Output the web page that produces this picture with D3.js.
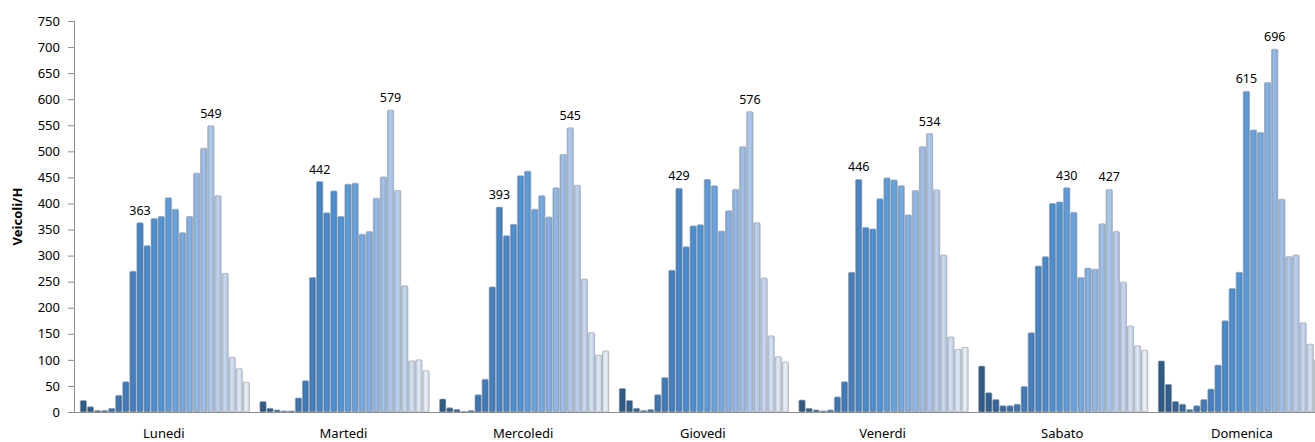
<!DOCTYPE html>
<html><head><meta charset="utf-8">
<script src="https://cdn.jsdelivr.net/npm/d3@7"></script>
<style>
html,body{margin:0;padding:0;background:#fff;overflow:hidden;}
text{font-family:"Noto Sans",sans-serif;fill:#000;}
</style></head>
<body><svg id="c" width="1315" height="442"></svg>
<script>
const days = ["Lunedi","Martedi","Mercoledi","Giovedi","Venerdi","Sabato","Domenica"];
const hours = d3.range(24);
const lunedi    = [22,10,3,3,7,32,58,270,363,319,371,375,411,389,344,375,458,506,549,415,266,105,83,57];
const martedi   = [20,7,4,2,2,27,60,258,442,382,424,375,437,439,341,346,410,451,579,425,242,98,100,79];
const mercoledi = [25,8,5,1,3,33,63,240,393,338,360,453,462,389,415,374,430,494,545,435,255,152,109,117];
const giovedi   = [45,22,7,3,5,33,66,272,429,317,357,359,446,434,347,386,427,509,576,363,257,146,106,96];
const venerdi   = [23,7,4,2,4,29,58,268,446,354,351,409,449,445,434,378,425,509,534,426,301,144,120,124];
const sabato    = [88,37,24,12,12,15,49,152,280,298,400,403,430,383,258,276,274,361,427,346,249,165,127,118];
const domenica  = [98,53,20,15,5,12,24,44,90,175,237,268,615,541,536,632,696,408,298,301,171,130,100,75];
const series = [lunedi,martedi,mercoledi,giovedi,venerdi,sabato,domenica];
const labelHours = [[8,18],[8,18],[8,18],[8,18],[8,18],[12,18],[12,16]];
const yTicks = d3.range(0,751,50);
const yTitle = "Veicoli/H";

const svg = d3.select("#c");
const y = d3.scaleLinear().domain([0,750]).range([412,21]);
const step = 179.67;
const x0 = d3.scaleBand().domain(days).range([75,75+7*step]).paddingInner(0.0538).paddingOuter(0.0269);
const x1 = d3.scaleBand().domain(hours).range([0,x0.bandwidth()]).padding(0);
const color = d3.scaleLinear().domain([0,6,11,16,19,23])
  .range(["#2c5985","#3f78b6","#4c90d3","#8db2df","#b2c8e6","#dde5ef"]);

const defs = svg.append("defs");
hours.forEach(h=>{
  const c = d3.color(color(h));
  const g = defs.append("linearGradient").attr("id","g"+h).attr("x1","0").attr("x2","1").attr("y1","0").attr("y2","0");
  g.append("stop").attr("offset","0%").attr("stop-color",c.darker(0.25));
  g.append("stop").attr("offset","45%").attr("stop-color",c.brighter(0.15));
  g.append("stop").attr("offset","100%").attr("stop-color",c.darker(0.2));
});

// y axis
const ya = svg.append("g").attr("transform","translate(74,0)")
  .call(d3.axisLeft(y).tickValues(yTicks).tickSize(6).tickPadding(8));
ya.select(".domain").attr("stroke","#8c8c8c");
ya.selectAll(".tick line").attr("stroke","#8c8c8c");
ya.selectAll(".tick text").style("font-family","'Noto Sans',sans-serif").style("font-size","13px").attr("fill","#000");

svg.append("text").attr("transform","translate(22,"+((y(0)+y(750))/2)+") rotate(-90)")
  .attr("text-anchor","middle").style("font-size","13px").style("font-weight","bold").text(yTitle);

// bars
const groups = svg.selectAll("g.day").data(days).enter().append("g").attr("class","day")
  .attr("transform",d=>"translate("+x0(d)+",0)");
groups.each(function(d,i){
  const g = d3.select(this);
  g.selectAll("rect").data(series[i]).enter().append("rect")
    .attr("x",(v,h)=>x1(h)+0.4)
    .attr("width",x1.bandwidth()-0.8)
    .attr("y",v=>y(v))
    .attr("height",v=>y(0)-y(v))
    .attr("rx",1.2)
    .attr("fill",(v,h)=>"url(#g"+h+")")
    .attr("stroke","#a3a3a3").attr("stroke-width",0.7);
  g.selectAll("text.val").data(labelHours[i]).enter().append("text").attr("class","val")
    .attr("x",h=>x1(h)+x1.bandwidth()/2)
    .attr("y",h=>y(series[i][h])-8)
    .attr("text-anchor","middle").style("font-size","12.5px")
    .text(h=>series[i][h]);
});

// x axis
svg.append("line").attr("x1",74).attr("x2",1315).attr("y1",y(0)+0.5).attr("y2",y(0)+0.5).attr("stroke","#8c8c8c");
svg.selectAll("text.day").data(days).enter().append("text").attr("class","day")
  .attr("x",d=>x0(d)+x0.bandwidth()/2-1).attr("y",438)
  .attr("text-anchor","middle").style("font-size","13px").text(d=>d);
</script></body></html>
